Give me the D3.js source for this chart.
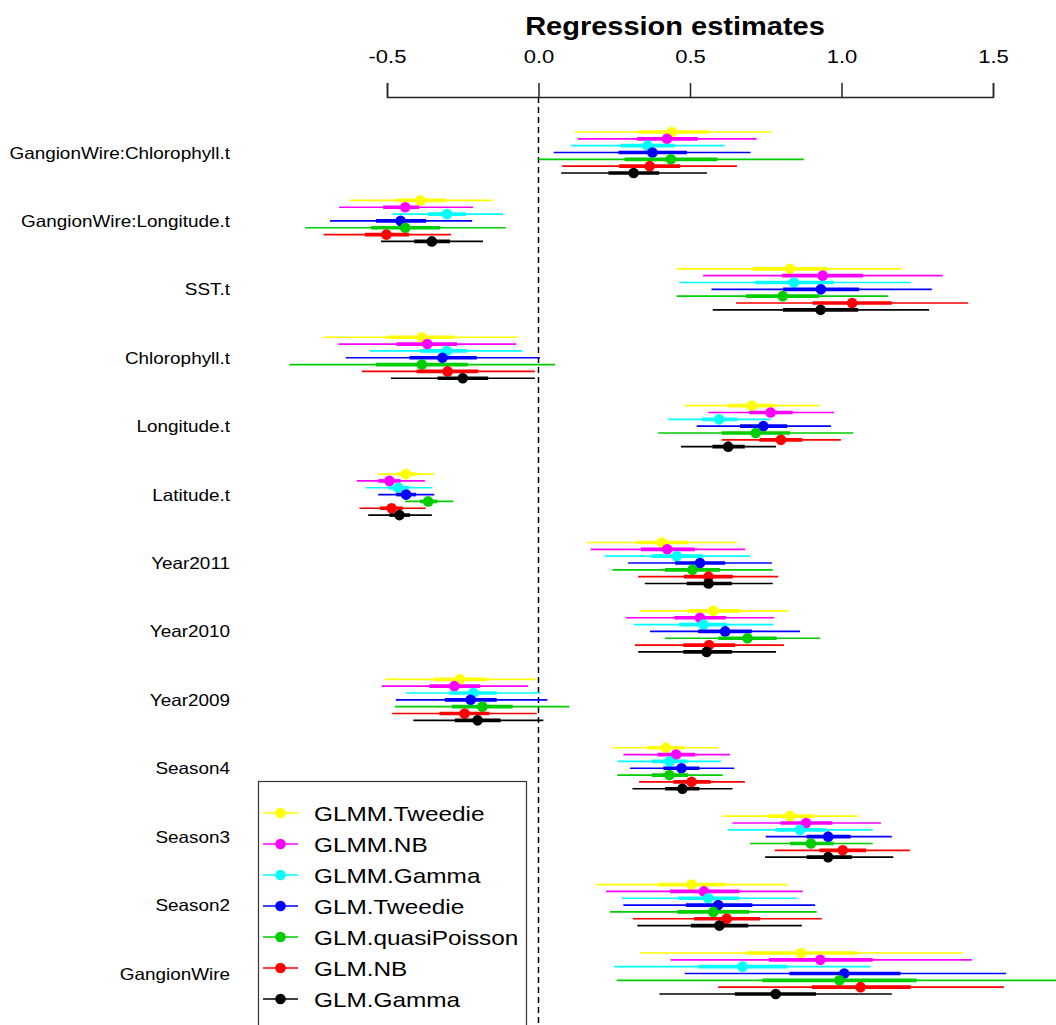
<!DOCTYPE html>
<html>
<head>
<meta charset="utf-8">
<script src="https://cdn.jsdelivr.net/npm/d3@7"></script>
<style>
  html, body { margin: 0; padding: 0; background: #fff; }
  svg { display: block; font-family: "Liberation Sans", Arial, sans-serif; }
</style>
</head>
<body>
<svg id="chart"></svg>
<script>
const categories = [
  "GangionWire:Chlorophyll.t",
  "GangionWire:Longitude.t",
  "SST.t",
  "Chlorophyll.t",
  "Longitude.t",
  "Latitude.t",
  "Year2011",
  "Year2010",
  "Year2009",
  "Season4",
  "Season3",
  "Season2",
  "GangionWire",
];

const models = [
  "GLMM.Tweedie",
  "GLMM.NB",
  "GLMM.Gamma",
  "GLM.Tweedie",
  "GLM.quasiPoisson",
  "GLM.NB",
  "GLM.Gamma",
];

const colors = ["#ffff00", "#ff00ff", "#00ffff", "#0000ff", "#00cd00", "#ff0000", "#000000"];

const xTicks = [-0.5, 0, 0.5, 1.0, 1.5];

// rows = categories, columns = models
const est = [
  [0.44, 0.424, 0.36, 0.376, 0.437, 0.367, 0.314],
  [-0.39, -0.44, -0.302, -0.455, -0.44, -0.502, -0.352],
  [0.83, 0.938, 0.843, 0.932, 0.806, 1.035, 0.931],
  [-0.385, -0.367, -0.303, -0.317, -0.385, -0.3, -0.25],
  [0.704, 0.766, 0.596, 0.742, 0.717, 0.8, 0.626],
  [-0.438, -0.492, -0.463, -0.437, -0.364, -0.485, -0.459],
  [0.407, 0.425, 0.456, 0.533, 0.508, 0.561, 0.561],
  [0.577, 0.533, 0.544, 0.616, 0.69, 0.563, 0.555],
  [-0.259, -0.278, -0.215, -0.224, -0.185, -0.244, -0.201],
  [0.42, 0.454, 0.432, 0.472, 0.432, 0.505, 0.475],
  [0.83, 0.883, 0.863, 0.956, 0.899, 1.004, 0.956],
  [0.505, 0.546, 0.56, 0.593, 0.577, 0.621, 0.597],
  [0.866, 0.93, 0.673, 1.009, 0.993, 1.063, 0.783],
];

// outer (thin) interval
const lowOuter = [
  [0.12, 0.13, 0.107, 0.05, 0.0, 0.078, 0.075],
  [-0.623, -0.658, -0.482, -0.688, -0.77, -0.709, -0.52],
  [0.456, 0.543, 0.464, 0.571, 0.456, 0.652, 0.575],
  [-0.71, -0.66, -0.556, -0.636, -0.822, -0.583, -0.487],
  [0.483, 0.56, 0.428, 0.522, 0.395, 0.605, 0.47],
  [-0.529, -0.6, -0.57, -0.529, -0.44, -0.591, -0.562],
  [0.159, 0.172, 0.219, 0.296, 0.244, 0.329, 0.351],
  [0.333, 0.289, 0.315, 0.368, 0.417, 0.318, 0.329],
  [-0.507, -0.517, -0.438, -0.471, -0.474, -0.483, -0.413],
  [0.244, 0.28, 0.261, 0.302, 0.26, 0.332, 0.31],
  [0.61, 0.64, 0.626, 0.75, 0.698, 0.78, 0.748],
  [0.19, 0.223, 0.275, 0.28, 0.236, 0.311, 0.326],
  [0.335, 0.436, 0.25, 0.483, 0.258, 0.593, 0.399],
];
const highOuter = [
  [0.77, 0.72, 0.615, 0.7, 0.876, 0.655, 0.556],
  [-0.152, -0.216, -0.117, -0.219, -0.108, -0.289, -0.183],
  [1.199, 1.334, 1.228, 1.298, 1.154, 1.418, 1.289],
  [-0.067, -0.074, -0.053, 0.005, 0.055, -0.012, -0.012],
  [0.927, 0.976, 0.766, 0.965, 1.039, 0.998, 0.784],
  [-0.345, -0.375, -0.35, -0.344, -0.281, -0.372, -0.352],
  [0.654, 0.682, 0.698, 0.77, 0.773, 0.791, 0.773],
  [0.824, 0.778, 0.775, 0.863, 0.929, 0.81, 0.784],
  [-0.008, -0.034, 0.007, 0.029, 0.102, -0.006, 0.016],
  [0.593, 0.632, 0.602, 0.646, 0.608, 0.681, 0.64],
  [1.053, 1.13, 1.103, 1.166, 1.103, 1.226, 1.171],
  [0.821, 0.872, 0.852, 0.913, 0.918, 0.935, 0.869],
  [1.4, 1.43, 1.096, 1.543, 1.75, 1.536, 1.166],
];

// inner (thick) interval
const lowInner = [
  [0.33, 0.325, 0.27, 0.264, 0.284, 0.266, 0.231],
  [-0.47, -0.513, -0.365, -0.536, -0.553, -0.573, -0.41],
  [0.707, 0.803, 0.715, 0.807, 0.685, 0.905, 0.807],
  [-0.501, -0.468, -0.391, -0.426, -0.536, -0.402, -0.333],
  [0.626, 0.696, 0.539, 0.665, 0.605, 0.729, 0.574],
  [-0.468, -0.529, -0.496, -0.47, -0.391, -0.523, -0.492],
  [0.322, 0.338, 0.374, 0.451, 0.417, 0.48, 0.489],
  [0.491, 0.448, 0.464, 0.527, 0.593, 0.478, 0.478],
  [-0.345, -0.36, -0.294, -0.309, -0.286, -0.327, -0.276],
  [0.359, 0.393, 0.374, 0.412, 0.374, 0.445, 0.418],
  [0.755, 0.799, 0.783, 0.885, 0.83, 0.927, 0.885],
  [0.395, 0.434, 0.461, 0.486, 0.458, 0.514, 0.503],
  [0.685, 0.761, 0.527, 0.828, 0.739, 0.902, 0.648],
];
const highInner = [
  [0.56, 0.525, 0.45, 0.49, 0.59, 0.467, 0.398],
  [-0.305, -0.394, -0.24, -0.371, -0.325, -0.427, -0.292],
  [0.955, 1.071, 0.975, 1.058, 0.926, 1.166, 1.055],
  [-0.279, -0.269, -0.236, -0.204, -0.234, -0.199, -0.166],
  [0.78, 0.839, 0.656, 0.821, 0.83, 0.871, 0.681],
  [-0.402, -0.455, -0.427, -0.404, -0.334, -0.448, -0.424],
  [0.494, 0.516, 0.541, 0.616, 0.599, 0.641, 0.638],
  [0.665, 0.619, 0.623, 0.704, 0.786, 0.649, 0.638],
  [-0.171, -0.193, -0.138, -0.138, -0.085, -0.162, -0.125],
  [0.48, 0.517, 0.491, 0.531, 0.494, 0.568, 0.531],
  [0.909, 0.97, 0.948, 1.03, 0.975, 1.081, 1.034],
  [0.616, 0.663, 0.663, 0.706, 0.695, 0.731, 0.692],
  [1.052, 1.103, 0.821, 1.195, 1.248, 1.228, 0.916],
];

const width = 1056, height = 1025;
const stretch = 1.16; // text in the original is a bit wide

const svg = d3.select("#chart").attr("width", width).attr("height", height);

// scales
const x = d3.scaleLinear().domain([-0.5, 1.5]).range([387, 993]);
const y = d3.scalePoint().domain(categories).range([152.5, 973.5]);
const yOff = d3.scalePoint().domain(models).range([-20.5, 20.5]);

// wide text helper
const wideText = (sel, tx, ty, txt, size, anchor, weight) =>
  sel
    .append("text")
    .attr("transform", `translate(${tx},${ty}) scale(${stretch},1)`)
    .attr("text-anchor", anchor)
    .style("font-size", size + "px")
    .style("font-weight", weight || "normal")
    .attr("fill", "#000")
    .text(txt);

// title
wideText(svg, 675, 35, "Regression estimates", 25, "middle", "bold");

// top axis (plain hyphen for negatives, like R)
const axis = svg
  .append("g")
  .attr("transform", "translate(0,97)")
  .call(d3.axisTop(x).tickValues(xTicks).tickSize(14).tickPadding(20).tickFormat((d) => d.toFixed(1)));
axis.select(".domain").attr("stroke", "#222").attr("stroke-width", 1.5);
axis.selectAll(".tick line").attr("stroke", "#222").attr("stroke-width", 1.5);
axis
  .selectAll(".tick text")
  .attr("font-family", null)
  .style("font-size", "19px")
  .attr("fill", "#000")
  .attr("transform", `scale(${stretch},1)`);

// zero line
svg
  .append("line")
  .attr("x1", x(0))
  .attr("x2", x(0))
  .attr("y1", 97)
  .attr("y2", height)
  .attr("stroke", "#000")
  .attr("stroke-width", 1.5)
  .attr("stroke-dasharray", "6,4");

// category labels
categories.forEach((c) => wideText(svg, 230, y(c) + 6, c, 16.3, "end"));

// intervals and points
categories.forEach((c, i) => {
  const g = svg.append("g");
  models.forEach((m, j) => {
    const yy = y(c) + yOff(m);
    g.append("line")
      .attr("x1", x(lowOuter[i][j]))
      .attr("x2", x(highOuter[i][j]))
      .attr("y1", yy)
      .attr("y2", yy)
      .attr("stroke", colors[j])
      .attr("stroke-width", 1.6);
    g.append("line")
      .attr("x1", x(lowInner[i][j]))
      .attr("x2", x(highInner[i][j]))
      .attr("y1", yy)
      .attr("y2", yy)
      .attr("stroke", colors[j])
      .attr("stroke-width", 3.6);
    g.append("circle")
      .attr("cx", x(est[i][j]))
      .attr("cy", yy)
      .attr("r", 5.3)
      .attr("fill", colors[j]);
  });
});

// legend
const legend = svg.append("g");
legend
  .append("rect")
  .attr("x", 258.5)
  .attr("y", 781.5)
  .attr("width", 268)
  .attr("height", 270)
  .attr("fill", "#fff")
  .attr("stroke", "#333")
  .attr("stroke-width", 1.2);

models.forEach((m, j) => {
  const ly = 813 + 31 * j;
  legend
    .append("line")
    .attr("x1", 263)
    .attr("x2", 298)
    .attr("y1", ly)
    .attr("y2", ly)
    .attr("stroke", colors[j])
    .attr("stroke-width", 1.6);
  legend.append("circle").attr("cx", 280.5).attr("cy", ly).attr("r", 5.3).attr("fill", colors[j]);
  wideText(legend, 314, ly + 7.5, m, 21, "start");
});
</script>
</body>
</html>
